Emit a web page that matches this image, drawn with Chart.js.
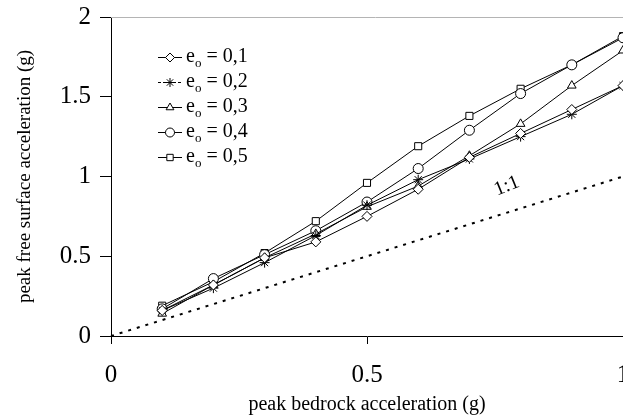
<!doctype html>
<html lang="en">
  <head>
    <meta charset="utf-8">
    <title>Peak acceleration</title>
    <script src="https://cdn.jsdelivr.net/npm/chart.js"></script>
    <style>
      html, body { margin: 0; padding: 0; background: #fff; overflow: hidden; }
      #wrap { width: 640px; height: 417px; }
    </style>
  </head>
  <body>
    <div id="wrap"><canvas id="accChart" width="640" height="417"></canvas></div>

    <script>
    // bedrock acceleration (g)
    const bedrock = [0.1, 0.2, 0.3, 0.4, 0.5, 0.6, 0.7, 0.8, 0.9, 1.0];

    // free surface acceleration (g) for each void ratio
    const eo01 = [0.16, 0.32, 0.49, 0.59, 0.75, 0.92, 1.12, 1.27, 1.42, 1.57];
    const eo02 = [0.16, 0.30, 0.46, 0.63, 0.82, 0.98, 1.11, 1.25, 1.39, 1.57];
    const eo03 = [0.14, 0.32, 0.49, 0.64, 0.81, 0.94, 1.13, 1.33, 1.57, 1.79];
    const eo04 = [0.17, 0.36, 0.51, 0.66, 0.84, 1.05, 1.29, 1.52, 1.70, 1.87];
    const eo05 = [0.19, 0.34, 0.52, 0.72, 0.96, 1.19, 1.38, 1.55, 1.70, 1.88];

    const legendValues = ['0,1', '0,2', '0,3', '0,4', '0,5'];
    const markers = ['rectRot', 'star', 'triangle', 'circle', 'rect'];

    // the 1:1 reference line
    const oneToOneX = [0, 1];
    const oneToOneY = [0, 1];

    const serif = "'Liberation Serif', 'DejaVu Serif', serif";

    function toPoints(xs, ys) {
      return xs.map((x, i) => ({ x: x, y: ys[i] }));
    }

    const series = [eo01, eo02, eo03, eo04, eo05];
    const datasets = series.map((vals, i) => ({
      label: 'e_o = ' + legendValues[i],
      data: toPoints(bedrock, vals),
      borderColor: '#000',
      borderWidth: 1,
      backgroundColor: '#fff',
      pointStyle: markers[i],
      pointRadius: 5,
      pointBorderColor: '#000',
      pointBackgroundColor: '#fff',
      pointBorderWidth: 1,
      tension: 0,
      clip: false
    }));
    datasets.push({
      label: '1:1',
      data: toPoints(oneToOneX, oneToOneY),
      borderColor: '#000',
      borderWidth: 2,
      borderDash: [3, 6],
      pointRadius: 0,
      clip: false
    });

    // top frame line, the "1:1" note and the legend box
    const extras = {
      id: 'extras',
      afterDraw(chart) {
        const ctx = chart.ctx;
        const a = chart.chartArea;
        const xs = chart.scales.x, ys = chart.scales.y;
        ctx.save();
        ctx.strokeStyle = '#b4b4b4';
        ctx.lineWidth = 1;
        ctx.beginPath();
        ctx.moveTo(a.left, a.top + 0.5);
        ctx.lineTo(chart.width, a.top + 0.5);
        ctx.stroke();

        // 1:1 label
        ctx.fillStyle = '#000';
        ctx.font = '20px ' + serif;
        ctx.textAlign = 'center';
        ctx.textBaseline = 'middle';
        ctx.translate(xs.getPixelForValue(0.773), ys.getPixelForValue(0.94));
        ctx.rotate(-22 * Math.PI / 180);
        ctx.fillText('1:1', 0, 0);
        ctx.restore();

        // legend
        ctx.save();
        const x0 = 158, x1 = 182, textX = 186;
        for (let i = 0; i < legendValues.length; i++) {
          const y = 57 + i * 25;
          ctx.strokeStyle = '#000';
          ctx.lineWidth = 1;
          ctx.setLineDash(i === 1 ? [3, 2] : []);
          ctx.beginPath();
          ctx.moveTo(x0, y + 0.5);
          ctx.lineTo(x1, y + 0.5);
          ctx.stroke();
          ctx.setLineDash([]);
          ctx.fillStyle = '#fff';
          Chart.helpers.drawPoint(ctx, {
            pointStyle: markers[i], radius: 4.5, borderWidth: 1
          }, (x0 + x1) / 2, y + 0.5);
          ctx.fillStyle = '#000';
          ctx.textAlign = 'left';
          ctx.textBaseline = 'alphabetic';
          ctx.font = '20px ' + serif;
          ctx.fillText('e', textX, y + 5);
          const ew = ctx.measureText('e').width;
          ctx.font = '13px ' + serif;
          ctx.fillText('o', textX + ew, y + 10);
          const ow = ctx.measureText('o').width;
          ctx.font = '20px ' + serif;
          ctx.fillText(' = ' + legendValues[i], textX + ew + ow, y + 5);
        }
        ctx.restore();
      }
    };

    const ctx = document.getElementById('accChart').getContext('2d');
    const chart = new Chart(ctx, {
      type: 'line',
      data: { datasets: datasets },
      options: {
        responsive: false,
        animation: false,
        layout: { padding: { top: 17, right: 17, bottom: 0, left: 0 } },
        plugins: { legend: { display: false }, tooltip: { enabled: false } },
        scales: {
          x: {
            type: 'linear',
            min: 0, max: 1,
            afterFit(scale) {
              scale.height = 81;
              scale.paddingLeft = 0;
              scale.paddingRight = 0;
            },
            ticks: { stepSize: 0.5, color: '#000', padding: 16, maxRotation: 0,
                     callback: v => String(v),
                     font: { family: serif, size: 25 } },
            grid: { drawOnChartArea: false, drawTicks: true, tickLength: 8, color: '#000' },
            border: { display: true, color: '#000', width: 1 },
            title: { display: true, text: 'peak bedrock acceleration (g)', color: '#000',
                     padding: { top: 0, bottom: 0 },
                     font: { family: serif, size: 20 } }
          },
          y: {
            type: 'linear',
            min: 0, max: 2,
            afterFit(scale) {
              scale.width = 111;
              scale.paddingTop = 0;
              scale.paddingBottom = 0;
            },
            ticks: { stepSize: 0.5, color: '#000', padding: 9,
                     callback: v => String(v),
                     font: { family: serif, size: 25 } },
            grid: { drawOnChartArea: false, drawTicks: true, tickLength: 11, color: '#000' },
            border: { display: true, color: '#000', width: 1 },
            title: { display: true, text: 'peak free surface acceleration (g)', color: '#000',
                     padding: { top: 14, bottom: 0 },
                     font: { family: serif, size: 19 } }
          }
        }
      },
      plugins: [extras]
    });
    </script>
  </body>
</html>
